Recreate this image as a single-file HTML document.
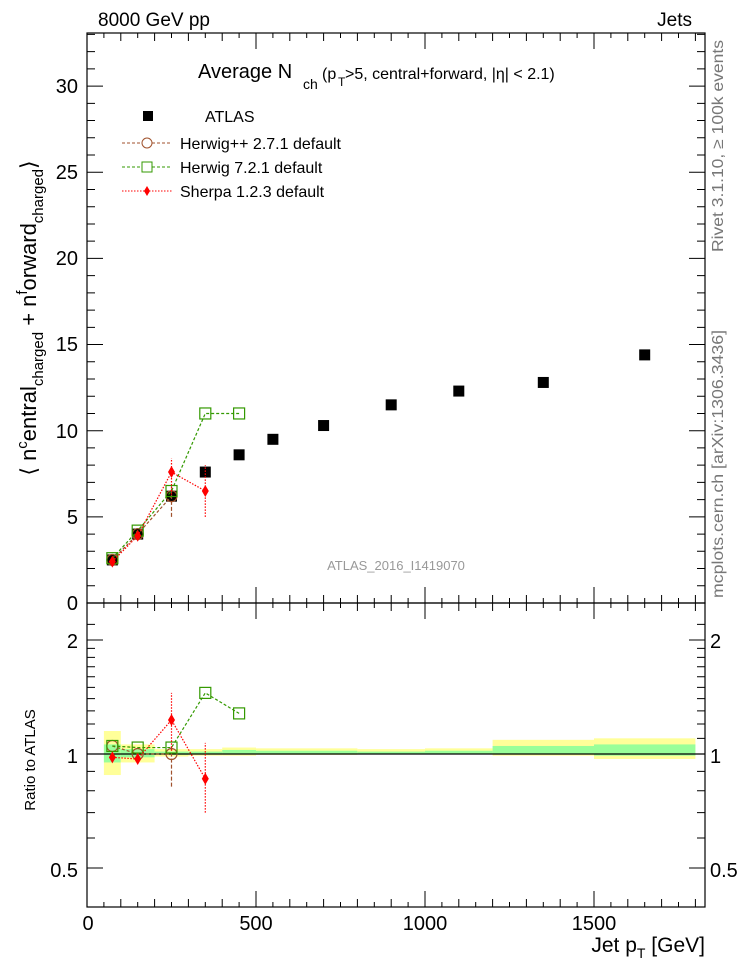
<!DOCTYPE html>
<html><head><meta charset="utf-8"><style>
body{margin:0;background:#fff;}
svg{display:block;font-family:"Liberation Sans",sans-serif;}
</style></head><body>
<svg id="s" width="746" height="972" xmlns="http://www.w3.org/2000/svg">
<g id="bands"></g>
<g id="ticks" stroke="#000" stroke-width="1"></g>
<rect x="87" y="33" width="618" height="570" fill="none" stroke="#000" stroke-width="1.2"/>
<rect x="87" y="603" width="618" height="304" fill="none" stroke="#000" stroke-width="1.2"/>
<line x1="87" y1="754" x2="705" y2="754" stroke="#000" stroke-width="1.2"/>
<g id="data"></g>
<text x="98" y="26" font-size="19">8000 GeV pp</text>
<text x="692" y="26" font-size="19" text-anchor="end">Jets</text>
<text x="198" y="78" font-size="20">Average N</text>
<text x="303" y="89" font-size="14">ch</text>
<text x="322" y="79" font-size="16">(p</text>
<text x="338" y="86" font-size="12">T</text>
<text x="345" y="79" font-size="16">&gt;5, central+forward, |η| &lt; 2.1)</text>
<g font-size="16">
<rect x="143" y="111" width="10" height="10" fill="#000"/>
<text x="205" y="122">ATLAS</text>
<line x1="122" y1="143" x2="172" y2="143" stroke="#a0522d" stroke-dasharray="3,2"/><circle cx="147" cy="143" r="5" fill="#fff" stroke="#a0522d"/>
<text x="180" y="149">Herwig++ 2.7.1 default</text>
<line x1="122" y1="167" x2="172" y2="167" stroke="#339900" stroke-dasharray="3,2"/><rect x="142" y="162" width="10" height="10" fill="#fff" stroke="#339900"/>
<text x="180" y="173">Herwig 7.2.1 default</text>
<line x1="122" y1="191" x2="172" y2="191" stroke="red" stroke-dasharray="1.5,1.5"/><path d="M147,186 L150,191 L147,196 L144,191Z" fill="red"/>
<text x="180" y="197">Sherpa 1.2.3 default</text>
</g>
<text x="396" y="570" font-size="13" fill="#999" text-anchor="middle">ATLAS_2016_I1419070</text>
<g font-size="20" text-anchor="end">
<text x="78" y="610">0</text><text x="78" y="524">5</text><text x="78" y="438">10</text><text x="78" y="351">15</text><text x="78" y="265">20</text><text x="78" y="179">25</text><text x="78" y="93">30</text>
<text x="78" y="648">2</text><text x="78" y="763">1</text><text x="78" y="877">0.5</text>
</g>
<g font-size="20">
<text x="710" y="648">2</text><text x="710" y="763">1</text><text x="710" y="877">0.5</text>
</g>
<g font-size="20" text-anchor="middle">
<text x="88" y="930">0</text><text x="256" y="930">500</text><text x="425" y="930">1000</text><text x="594" y="930">1500</text>
</g>
<text x="705" y="952" font-size="21" text-anchor="end">Jet p<tspan font-size="14" dy="6">T</tspan><tspan dy="-6"> [GeV]</tspan></text>
<text transform="translate(35,760) rotate(-90)" font-size="15" text-anchor="middle">Ratio to ATLAS</text>
<text transform="translate(36,318) rotate(-90)" font-size="22" text-anchor="middle">⟨ n<tspan font-size="15" dy="-9">c</tspan><tspan dy="9">entral</tspan><tspan font-size="15" dy="7">charged</tspan><tspan dy="-7"> + n</tspan><tspan font-size="15" dy="-9">f</tspan><tspan dy="9">orward</tspan><tspan font-size="15" dy="7">charged</tspan><tspan dy="-7">⟩</tspan></text>
<text transform="translate(723,598) rotate(-90)" font-size="16" fill="#777" textLength="268" lengthAdjust="spacingAndGlyphs">mcplots.cern.ch [arXiv:1306.3436]</text>
<text transform="translate(723,252) rotate(-90)" font-size="16" fill="#777" textLength="212" lengthAdjust="spacingAndGlyphs">Rivet 3.1.10, ≥ 100k events</text>
</svg>
<script>
const NS="http://www.w3.org/2000/svg";
function el(p,t,a){const e=document.createElementNS(NS,t);for(const k in a)e.setAttribute(k,a[k]);document.getElementById(p).appendChild(e);return e;}
const X=v=>87+v*0.338, Y=v=>603-v*17.23, R=r=>754-378.7*Math.log10(r);
const bins=[[50,100,0.88,1.15,0.95,1.06],[100,200,0.95,1.06,0.98,1.03],[200,300,0.985,1.03,0.995,1.015],[300,400,0.99,1.03,0.997,1.015],[400,500,0.99,1.04,0.997,1.025],[500,800,0.995,1.035,1,1.02],[800,1000,1,1.03,1,1.015],[1000,1200,1,1.035,1,1.02],[1200,1500,0.99,1.09,1,1.05],[1500,1800,0.97,1.1,0.99,1.06]];
bins.forEach(b=>{el("bands","rect",{x:X(b[0]),y:R(b[3]),width:X(b[1])-X(b[0]),height:R(b[2])-R(b[3]),fill:"#ffff99"});
el("bands","rect",{x:X(b[0]),y:R(b[5]),width:X(b[1])-X(b[0]),height:R(b[4])-R(b[5]),fill:"#99ff99"});});
let d="";
for(let v=0;v<=33;v++){const y=Y(v);if(y<33)break;const L=v%5==0?16:8;d+=`M87,${y}h${L}M705,${y}h${-L}`;}
[0.5,0.6,0.7,0.8,0.9,1,1.1,1.2,1.3,1.4,1.5,1.6,1.7,1.8,1.9,2,2.2].forEach(r=>{const y=R(r);if(y<603||y>907)return;const L=(r==0.5||r==1||r==2)?16:8;d+=`M87,${y}h${L}M705,${y}h${-L}`;});
for(let v=0;v<=1800;v+=100){const x=X(v);const L=v%500==0?16:8;d+=`M${x},603v${-L}M${x},33v${L}M${x},907v${-L}M${x},603v${L}`;}
for(let v=50;v<=1800;v+=100){const x=X(v);d+=`M${x},603v-5M${x},33v5M${x},907v-5M${x},603v5`;}
el("ticks","path",{d:d,fill:"none"});
const xs=[75,150,250,350,450,550,700,900,1100,1350,1650], at=[2.5,4.0,6.2,7.6,8.6,9.5,10.3,11.5,12.3,12.8,14.4];
function line(pts,col,dash){el("data","polyline",{points:pts.map(p=>p.join(",")).join(" "),fill:"none",stroke:col,"stroke-dasharray":dash,"stroke-width":1.2});}
function err(x,y1,y2,col,dash){el("data","line",{x1:x,x2:x,y1:y1,y2:y2,stroke:col,"stroke-dasharray":dash,"stroke-width":1.2});}
function circ(x,y){el("data","circle",{cx:x,cy:y,r:5.5,fill:"none",stroke:"#a0522d","stroke-width":1.2});}
function sq(x,y){el("data","rect",{x:x-5.5,y:y-5.5,width:11,height:11,fill:"none",stroke:"#339900","stroke-width":1.2});}
function dia(x,y){el("data","path",{d:`M${x},${y-6}L${x+3.5},${y}L${x},${y+6}L${x-3.5},${y}Z`,fill:"red"});}
xs.forEach((v,i)=>el("data","rect",{x:X(v)-5.5,y:Y(at[i])-5.5,width:11,height:11,fill:"#000"}));
const hpp=[2.5,4.0,6.2],h7=[2.6,4.2,6.5,11,11],sh=[2.4,3.9,7.6,6.5];
err(X(250),Y(5.0),Y(6.8),"#a0522d","4,2");
line(hpp.map((v,i)=>[X(xs[i]),Y(v)]),"#a0522d","3,2");hpp.forEach((v,i)=>circ(X(xs[i]),Y(v)));
line(h7.map((v,i)=>[X(xs[i]),Y(v)]),"#339900","3,2");h7.forEach((v,i)=>sq(X(xs[i]),Y(v)));
err(X(250),Y(6.3),Y(8.4),"red","1.5,1.5");err(X(350),Y(5.0),Y(8.0),"red","1.5,1.5");
line(sh.map((v,i)=>[X(xs[i]),Y(v)]),"red","1.5,1.5");sh.forEach((v,i)=>dia(X(xs[i]),Y(v)));
const rh=[1.05,1.0,1.0],r7=[1.05,1.04,1.04,1.45,1.28],rs=[0.98,0.97,1.23,0.86];
err(X(250),R(0.82),R(1.05),"#a0522d","4,2");
line(rh.map((v,i)=>[X(xs[i]),R(v)]),"#a0522d","3,2");rh.forEach((v,i)=>circ(X(xs[i]),R(v)));
line(r7.map((v,i)=>[X(xs[i]),R(v)]),"#339900","3,2");r7.forEach((v,i)=>sq(X(xs[i]),R(v)));
err(X(250),R(1.02),R(1.45),"red","1.5,1.5");err(X(350),R(0.7),R(1.07),"red","1.5,1.5");
line(rs.map((v,i)=>[X(xs[i]),R(v)]),"red","1.5,1.5");rs.forEach((v,i)=>dia(X(xs[i]),R(v)));
</script>
</body></html>
